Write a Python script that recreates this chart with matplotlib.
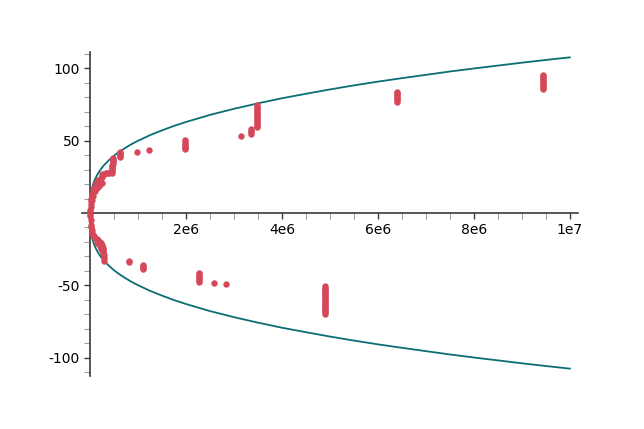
import numpy as np
import matplotlib
matplotlib.use("Agg")
import matplotlib.pyplot as plt

plt.rcParams['axes.unicode_minus'] = False

# boundary curve, values (upper half, lower is mirrored)
curve_x = [0, 100, 300, 500, 1e3, 2e3, 3e3, 5e3, 7e3, 1e4, 1.5e4, 2e4, 2.5e4, 3.5e4, 5e4,
           7.5e4, 1e5, 1.5e5, 2e5, 2.5e5, 3e5, 4e5, 5e5, 6e5, 7.5e5, 8.5e5, 1e6, 1.25e6,
           1.5e6, 1.75e6, 2e6, 2.5e6, 3e6, 3.5e6, 4e6, 4.5e6, 5e6, 5.5e6, 6e6, 6.5e6,
           7e6, 7.5e6, 8e6, 8.5e6, 9e6, 9.5e6, 1e7]
curve_y = [0, 2.3, 3.35, 3.97, 5.0, 6.3, 7.2, 8.55, 9.56, 10.8, 12.33, 13.57, 14.6, 16.35, 18.4,
           21.1, 23.2, 26.6, 29.2, 31.5, 33.5, 36.8, 39.7, 42.2, 45.4, 47.4, 50.0, 53.9,
           57.2, 60.3, 63.0, 67.9, 72.1, 75.9, 79.4, 82.5, 85.5, 88.3, 90.9, 93.3,
           95.6, 97.9, 100.0, 102.0, 104.0, 105.9, 107.7]

# red points above the axis
top_x = [2e3, 5e3, 8e3, 1e4, 1.5e4, 2e4, 3e4, 4e4, 5e4, 6e4, 7e4, 9e4, 1.1e5, 1.3e5, 1.3e5,
         1.5e5, 1.7e5, 1.7e5, 2e5, 2.2e5, 2.5e5, 2.5e5, 2.8e5, 3.2e5, 3.6e5, 4e5, 4.5e5,
         3e4, 6e4, 1e5, 1.4e5, 1.9e5, 2.4e5,
         4.6e5, 4.6e5, 4.6e5, 4.6e5, 4.6e5, 4.7e5, 4.7e5, 4.7e5, 4.7e5, 4.7e5,
         6.25e5, 6.25e5, 6.25e5, 6.3e5, 6.3e5,
         0.98e6, 1.23e6, 1.98e6, 1.98e6, 1.98e6, 1.98e6, 1.98e6, 1.98e6, 1.98e6,
         3.15e6, 3.36e6, 3.36e6, 3.36e6, 3.36e6,
         3.48e6, 3.48e6, 3.48e6, 3.48e6, 3.48e6, 3.48e6, 3.48e6, 3.48e6, 3.48e6,
         3.48e6, 3.48e6, 3.48e6, 3.48e6, 3.48e6, 3.48e6, 3.48e6,
         6.39e6, 6.39e6, 6.39e6, 6.39e6, 6.39e6, 6.39e6, 6.39e6, 6.39e6,
         9.44e6, 9.44e6, 9.44e6, 9.44e6, 9.44e6, 9.44e6, 9.44e6, 9.44e6, 9.44e6,
         9.44e6, 9.44e6]
top_y = [1, 2, 4, 6, 8, 10, 12, 13, 14, 15, 16, 17, 18, 19, 21,
         20, 21, 23, 22, 24, 25, 27, 27, 27.5, 27.5, 28, 28,
         9, 12, 15, 17, 19, 21,
         29, 30, 31, 32, 33, 34, 35, 36, 37, 38,
         38.5, 39.5, 40.5, 41.2, 42,
         42.5, 43.5, 44, 45, 46, 47, 48, 49, 50.5,
         53, 55, 56, 57, 58,
         59.5, 60.5, 61.5, 62.5, 63.5, 64.5, 65.5, 66.5, 67.5,
         68.5, 69.5, 70.5, 71.5, 72.5, 73.5, 75,
         77, 78, 79, 80, 81, 82, 83, 84,
         85.6, 86.6, 87.6, 88.6, 89.6, 90.6, 91.6, 92.6, 93.6,
         94.5, 95.3]

# red points below the axis
bot_x = [2e3, 5e3, 1e4, 1.5e4, 2e4, 3e4, 4e4, 6e4, 8e4, 1.1e5, 1.4e5, 1.7e5, 2e5, 2.3e5,
         2.5e5, 2.55e5, 2.6e5, 2.65e5, 2.7e5, 2.7e5, 2.75e5, 2.8e5, 2.8e5, 2.8e5,
         1.5e5, 2e5, 2.2e5,
         0.82e6, 0.82e6, 1.11e6, 1.11e6, 1.11e6, 1.11e6,
         2.27e6, 2.27e6, 2.27e6, 2.27e6, 2.27e6, 2.27e6, 2.27e6, 2.58e6, 2.83e6,
         4.9e6, 4.9e6, 4.9e6, 4.9e6, 4.9e6, 4.9e6, 4.9e6, 4.9e6, 4.9e6, 4.9e6,
         4.9e6, 4.9e6, 4.9e6, 4.9e6, 4.9e6, 4.9e6, 4.9e6, 4.9e6, 4.9e6, 4.9e6]
bot_y = [-1, -2, -5, -8, -10, -12, -14, -15, -16, -17, -18, -19, -20, -21,
         -22, -23, -24, -25, -26, -27, -28, -29, -31, -33,
         -21, -23, -25,
         -33, -34, -36, -37, -38, -39,
         -41.5, -42.5, -43.5, -44.5, -45.5, -46.6, -47.8, -48.2, -49.1,
         -50.7, -51.7, -52.7, -53.7, -54.7, -55.7, -56.7, -57.7, -58.7, -59.7,
         -60.7, -61.7, -62.7, -63.7, -64.7, -65.7, -66.7, -67.7, -68.8, -70.1]

red = '#d4485a'
teal = '#0a6e72'

fig = plt.figure(figsize=(6.44, 4.29), dpi=100)
ax = fig.add_axes([82 / 644, 1 - 376 / 429, 496 / 644, 324 / 429])

ax.plot(curve_x, curve_y, color=teal, lw=1.3, zorder=2)
ax.plot(curve_x, [-v for v in curve_y], color=teal, lw=1.3, zorder=2)
ax.plot(top_x, top_y, 'o', ms=4.6, color=red, mec='none', zorder=3)
ax.plot(bot_x, bot_y, 'o', ms=4.6, color=red, mec='none', zorder=3)

ax.set_xlim(-0.17e6, 10.17e6)
ax.set_ylim(-112.8, 111.4)

for s in ['top', 'right']:
    ax.spines[s].set_visible(False)
for s in ['left', 'bottom']:
    ax.spines[s].set_position(('data', 0))
    ax.spines[s].set_color('#3a3a3a')
    ax.spines[s].set_linewidth(1.2)

ax.set_xticks([2e6, 4e6, 6e6, 8e6, 1e7], ['2e6', '4e6', '6e6', '8e6', '1e7'])
ax.set_xticks(np.arange(5e5, 1.01e7, 5e5), minor=True)
ax.set_yticks([-100, -50, 50, 100], ['-100', '-50', '50', '100'])
ax.set_yticks([v for v in range(-110, 111, 10) if v % 50 != 0], minor=True)

ax.tick_params(which='major', direction='out', length=4.3, width=1, color='#3a3a3a',
               labelsize=10, pad=3)
ax.tick_params(which='minor', direction='out', length=4.3, width=0.8, color='#a0a0a0')

fig.savefig('out.png', dpi=100)
